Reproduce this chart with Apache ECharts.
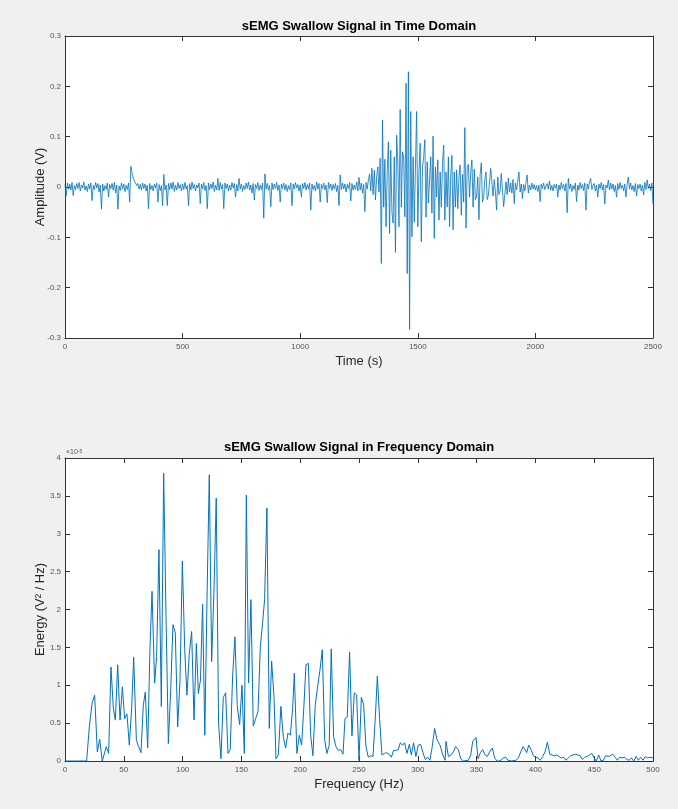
<!DOCTYPE html>
<html lang="en">
<head>
    <meta charset="utf-8" />
    <title>sEMG Swallow Signal</title>
    <script src="https://cdn.jsdelivr.net/npm/echarts@6/dist/echarts.min.js"></script>
    <style>
        html, body { margin: 0; padding: 0; background: #f0f0f0; }
        #main { width: 678px; height: 809px; }
    </style>
</head>
<body>
<div id="main"></div>
<script>
    // time domain: one sample every 5 s, amplitude in mV
    var T_STEP = 5;
    var ampMilliV = [
        5, -17, 8, -4, 6, -6, 9, -17, 3, -5,
        7, -3, 9, -8, 4, -2, 10, -6, 2, -9,
        6, -4, 8, -27, 3, -5, 9, -2, 7, -10,
        4, -44, 6, -8, 3, -5, 8, -20, 5, -3,
        7, -6, 9, -12, 4, -44, 2, -7, 8, -4,
        6, -9, 3, -5, 8, -30, 41, 28, 18, 12,
        9, 3, 7, -4, 5, -6, 8, -3, 6, -8,
        4, -43, 7, -5, 3, -8, 6, -2, 8, -30,
        5, -7, 3, -37, 25, -6, 4, -37, 7, -5,
        8, -4, 10, -9, 4, -6, 9, -3, 5, -8,
        6, -5, 9, -4, 3, -37, 7, -6, 10, -3,
        5, -8, 4, -2, 8, -33, 6, -4, 9, -7,
        3, -43, 8, -5, 6, -3, 10, -9, 4, -6,
        17, -7, 9, -4, 5, -43, 8, -3, 6, -8,
        4, -6, 9, -2, 7, -20, 5, -8, 17, -4,
        6, -9, 3, -5, 8, -3, 10, -6, 4, -12,
        7, -26, 5, -3, 9, -7, 4, -5, 8, -62,
        26, -4, 7, -6, 3, -39, 8, -5, 6, -3,
        9, -7, 4, -30, 6, -3, 8, -6, 5, -9,
        3, -5, 8, -37, 6, -4, 9, -2, 5, -8,
        4, -20, 7, -3, 9, -6, 5, -4, 8, -46,
        6, -5, 3, -8, 10, -4, 7, -30, 5, -3,
        8, -6, 4, -31, 9, -3, 6, -7, 5, -4,
        7, -9, 3, -37, 24, -5, 8, -4, 6, -10,
        5, -3, 9, -28, 7, -6, 4, -5, 10, -8,
        19, -6, 8, -12, 5, -49, 9, -4, 14, 26,
        -8, 37, -15, 33, -26, 20, 40, -10, 57, -152,
        133, -40, 55, -79, 30, 90, -92, 73, -50, -72,
        60, -130, 103, 50, -79, 154, -40, 70, 60, -59,
        206, -172, 229, -283, 150, -99, 60, -70, 40, 150,
        -79, 30, 87, -109, 40, 60, 94, -60, 50, -32,
        -32, 60, -52, 101, -102, 40, -20, 54, -66, 30,
        -40, 47, 83, -66, 30, -40, 60, -79, 20, 63,
        -85, 30, -40, 34, -43, 20, 44, -56, 25, -30,
        118, -82, 40, 45, -20, 30, 54, -40, 35, -25,
        -19, 20, -65, 25, 48, -30, -20, 15, 30, -25,
        -17, 10, 37, 38, -18, 15, -10, -46, 20, -15,
        -8, 27, 25, -39, -42, 10, -15, 18, -10, 8,
        -12, 15, -33, 8, -6, 12, 30, -10, 6, -23,
        5, -8, 10, 24, -12, 4, -6, 8, -4, 5,
        -6, 3, -9, 4, -29, 6, -3, 8, -5, 2,
        7, -4, 12, -6, 3, -8, 5, -2, 6, -20,
        4, -6, 9, -3, 5, -8, 7, -51, 17, -4,
        6, -9, 3, -5, 8, -29, 4, -6, 9, -3,
        5, -7, 8, -46, 6, -4, 10, 17, -5, 3,
        7, -8, 4, -20, 6, -3, 9, -6, 5, -34,
        4, -2, 14, -6, 8, -4, 6, -9, 3, -20,
        7, -5, 9, -3, 4, -8, 6, -20, 5, 20,
        -4, 8, -6, 3, -9, 7, -18, 5, -3, 6,
        -8, 4, -16, 9, -5, 14, -3, 6, -7, 8,
        -34
    ];

    // frequency domain: vertices, energy in units of 1e-5 V^2/Hz
    var freqHz = [
        0, 18.4, 20.7, 23.0, 25.2, 27.5, 29.5, 31.7, 33.2, 35.1,
        37.1, 39.1, 41.1, 42.8, 44.8, 46.8, 48.8, 50.7, 52.7, 54.7,
        56.7, 58.4, 60.7, 62.6, 64.6, 66.6, 68.3, 70.3, 72.3, 74.0,
        76.2, 77.9, 79.9, 81.9, 83.9, 85.9, 87.9, 89.9, 91.8, 93.8,
        95.8, 97.8, 99.8, 101.8, 103.7, 105.7, 107.7, 109.7, 111.7, 113.4,
        115.2, 117.0, 118.9, 120.7, 122.7, 124.7, 126.7, 128.6, 130.6, 132.6,
        134.6, 136.6, 138.6, 140.5, 142.5, 144.5, 146.5, 148.5, 150.5, 152.5,
        154.2, 156.1, 158.1, 160.1, 162.1, 164.1, 166.1, 168.0, 169.7, 171.7,
        173.7, 175.7, 177.7, 179.4, 181.4, 183.6, 185.6, 187.6, 189.6, 191.6,
        193.6, 195.0, 197.2, 199.2, 201.2, 203.2, 204.9, 206.9, 208.9, 210.8,
        212.8, 214.8, 216.8, 218.8, 220.8, 222.7, 224.7, 226.4, 228.4, 230.4,
        232.4, 234.4, 236.4, 238.1, 240.0, 242.0, 244.0, 246.0, 248.0, 250.0,
        252.0, 253.9, 255.9, 257.9, 259.9, 261.9, 263.9, 265.6, 267.5, 269.5,
        271.5, 273.5, 275.5, 277.5, 279.4, 281.4, 283.4, 285.1, 287.1, 288.8,
        290.8, 292.8, 294.5, 296.4, 298.4, 300.4, 302.4, 304.4, 306.4, 308.4,
        310.3, 312.3, 314.3, 316.3, 318.9, 321.2, 323.2, 324.0, 326.0, 328.3,
        330.2, 332.2, 334.5, 336.5, 338.7, 343.0, 345.0, 346.7, 349.5, 351.2,
        353.2, 355.2, 357.2, 359.1, 361.4, 363.4, 365.4, 367.4, 369.9, 372.8,
        374.7, 376.7, 379.8, 383.5, 385.5, 387.5, 389.5, 390.9, 392.6, 394.3,
        396.3, 398.3, 400.2, 402.2, 404.2, 406.2, 408.2, 410.2, 412.2, 414.1,
        416.1, 418.1, 420.1, 422.1, 424.1, 426.0, 428.0, 430.0, 432.0, 434.0,
        436.0, 438.0, 439.9, 441.9, 443.9, 445.9, 447.9, 449.9, 451.8, 453.8,
        455.8, 457.8, 459.8, 461.8, 463.7, 465.7, 467.7, 469.7, 471.7, 473.7,
        475.7, 477.6, 479.6, 481.6, 483.6, 485.6, 487.6, 489.5, 491.5, 493.5,
        495.5, 497.5, 500
    ];
    var energyE5 = [
        0, 0, 0.45, 0.76, 0.87, 0.12, 0.29, 0.0, 0.0, 0.19,
        0.10, 1.24, 0.70, 0.54, 1.27, 0.54, 0.98, 0.56, 0.62, 0.21,
        0.70, 1.37, 0.27, 0.19, 0.11, 0.74, 0.91, 0.17, 1.51, 2.24,
        1.03, 1.38, 2.79, 0.72, 3.80, 1.91, 0.23, 0.95, 1.80, 1.69,
        0.45, 1.07, 2.64, 1.47, 0.87, 1.42, 1.71, 0.54, 1.55, 0.89,
        1.07, 2.07, 0.34, 2.10, 3.78, 1.31, 2.26, 3.47, 0.50, 0.03,
        0.84, 0.90, 0.10, 0.15, 1.11, 1.64, 0.72, 0.48, 1.00, 0.10,
        3.51, 1.03, 2.13, 0.46, 0.56, 0.65, 1.51, 1.82, 2.13, 3.34,
        0.43, 1.32, 0.85, 0.03, 0.08, 0.72, 0.32, 0.17, 0.37, 0.34,
        0.70, 1.16, 0.10, 0.34, 0.21, 0.74, 1.27, 1.29, 0.34, 0.07,
        0.74, 0.98, 1.20, 1.47, 0.28, 0.10, 0.21, 1.48, 0.32, 0.19,
        0.14, 0.15, 0.09, 0.56, 0.58, 1.44, 0.33, 0.90, 0.87, 0.01,
        0.84, 0.75, 0.19, 0.05, 0.07, 0.06, 0.58, 1.12, 0.56, 0.08,
        0.10, 0.11, 0.09, 0.05, 0.14, 0.14, 0.15, 0.24, 0.21, 0.24,
        0.10, 0.22, 0.08, 0.24, 0.06, 0.21, 0.22, 0.11, 0.02, 0.05,
        0.01, 0.19, 0.43, 0.28, 0.21, 0.08, 0.01, 0.26, 0.06, 0.08,
        0.12, 0.19, 0.15, 0.03, 0.0, 0.01, 0.08, 0.26, 0.31, 0.03,
        0.11, 0.15, 0.08, 0.06, 0.13, 0.17, 0.04, 0.0, 0.0, 0.04,
        0.05, 0.01, 0.0, 0.01, 0.04, 0.12, 0.19, 0.21, 0.11, 0.21,
        0.15, 0.07, 0.05, 0.04, 0.01, 0.06, 0.12, 0.25, 0.09, 0.08,
        0.07, 0.08, 0.06, 0.04, 0.05, 0.01, 0.04, 0.07, 0.08, 0.09,
        0.08, 0.07, 0.02, 0.05, 0.06, 0.08, 0.10, 0.04, 0.0, 0.08,
        0.0, 0.01, 0.07, 0.06, 0.07, 0.09, 0.05, 0.01, 0.05, 0.04,
        0.05, 0.02, 0.01, 0.04, 0.0, 0.06, 0.01, 0.05, 0.01, 0.06,
        0.04, 0.05, 0.04
    ];

    var timeTicks = [0, 500, 1000, 1500, 2000, 2500];
    var ampTicks = [-0.3, -0.2, -0.1, 0, 0.1, 0.2, 0.3];
    var freqTicks = [0, 50, 100, 150, 200, 250, 300, 350, 400, 450, 500];
    var energyTicks = [0, 0.5, 1, 1.5, 2, 2.5, 3, 3.5, 4];

    var FONT = '"Liberation Sans", Arial, Helvetica, sans-serif';
    var LINE = '#0072BD';
    var AX = '#333333';

    var chart = echarts.init(document.getElementById('main'));

    var timeData = [];
    for (var i = 0; i < ampMilliV.length; i++) {
        timeData.push([i * T_STEP, ampMilliV[i] / 1000]);
    }
    var freqData = [];
    for (var j = 0; j < freqHz.length; j++) {
        freqData.push([freqHz[j], energyE5[j]]);
    }

    function fmt(v) {
        return String(Math.round(v * 1000) / 1000);
    }

    // main axis (labels) or mirror axis (ticks only) for the MATLAB box
    function xAx(grid, ticks, name, mirror) {
        return {
            type: 'value', gridIndex: grid,
            position: mirror ? 'top' : 'bottom',
            min: ticks[0], max: ticks[ticks.length - 1],
            interval: ticks[1] - ticks[0],
            name: mirror ? '' : name,
            nameLocation: 'middle', nameGap: 17, nameMoveOverlap: false,
            nameTextStyle: { fontFamily: FONT, fontSize: 13, color: '#262626' },
            axisLine: { show: true, onZero: false, lineStyle: { color: AX, width: 1 } },
            axisTick: { show: true, inside: true, length: 5, lineStyle: { color: AX } },
            axisLabel: { show: !mirror, margin: 5, fontFamily: FONT, fontSize: 8, color: '#555', formatter: fmt },
            splitLine: { show: false }
        };
    }
    function yAx(grid, ticks, name, mirror) {
        return {
            type: 'value', gridIndex: grid,
            position: mirror ? 'right' : 'left',
            min: ticks[0], max: ticks[ticks.length - 1],
            interval: ticks[1] - ticks[0],
            name: mirror ? '' : name,
            nameLocation: 'middle', nameGap: 18, nameMoveOverlap: false,
            nameTextStyle: { fontFamily: FONT, fontSize: 13, color: '#262626' },
            axisLine: { show: true, onZero: false, lineStyle: { color: AX, width: 1 } },
            axisTick: { show: true, inside: true, length: 5, lineStyle: { color: AX } },
            axisLabel: { show: !mirror, margin: 4, fontFamily: FONT, fontSize: 8, color: '#555', formatter: fmt },
            splitLine: { show: false }
        };
    }

    var option = {
        backgroundColor: '#f0f0f0',
        animation: false,
        title: [
            { text: 'sEMG Swallow Signal in Time Domain', left: 359, top: 20, textAlign: 'center', padding: 0,
              textStyle: { fontFamily: FONT, fontSize: 13, fontWeight: 'bold', color: '#000' } },
            { text: 'sEMG Swallow Signal in Frequency Domain', left: 359, top: 441, textAlign: 'center', padding: 0,
              textStyle: { fontFamily: FONT, fontSize: 13, fontWeight: 'bold', color: '#000' } }
        ],
        graphic: [{
            type: 'text', left: 66, top: 449,
            style: {
                text: '×10{s|-5}',
                font: '7px ' + FONT, fill: '#555',
                rich: { s: { fontSize: 5, verticalAlign: 'top', fill: '#555' } }
            }
        }],
        grid: [
            { left: 65, top: 36, width: 588, height: 302, show: true, backgroundColor: '#fff', borderWidth: 0 },
            { left: 65, top: 458, width: 588, height: 303, show: true, backgroundColor: '#fff', borderWidth: 0 }
        ],
        xAxis: [
            xAx(0, timeTicks, 'Time (s)', false),
            xAx(0, timeTicks, '', true),
            xAx(1, freqTicks, 'Frequency (Hz)', false),
            xAx(1, freqTicks, '', true)
        ],
        yAxis: [
            yAx(0, ampTicks, 'Amplitude (V)', false),
            yAx(0, ampTicks, '', true),
            yAx(1, energyTicks, 'Energy (V² / Hz)', false),
            yAx(1, energyTicks, '', true)
        ],
        series: [
            {
                type: 'line', xAxisIndex: 0, yAxisIndex: 0,
                data: timeData, showSymbol: false, silent: true,
                lineStyle: { color: LINE, width: 0.8 }
            },
            {
                type: 'line', xAxisIndex: 2, yAxisIndex: 2,
                data: freqData, showSymbol: false, silent: true,
                lineStyle: { color: LINE, width: 1 }
            }
        ]
    };

    chart.setOption(option);
</script>
</body>
</html>
